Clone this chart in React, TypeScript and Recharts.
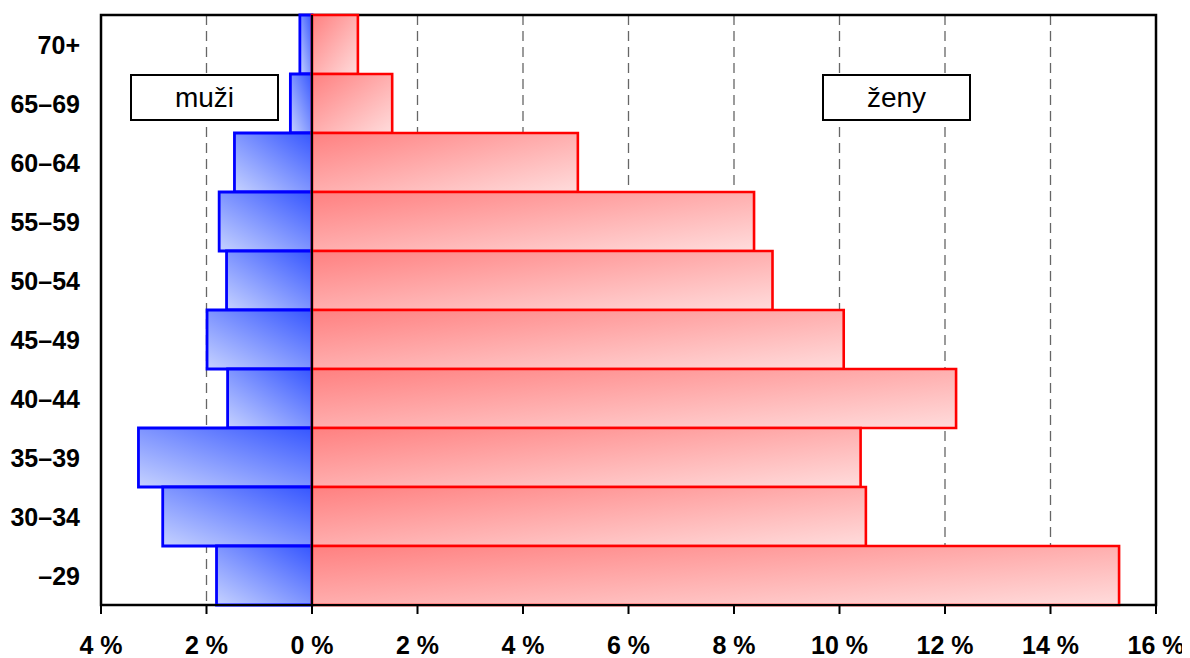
import React from "react";
import {
  BarChart,
  Bar,
  XAxis,
  YAxis,
  CartesianGrid,
  ReferenceLine,
  ReferenceArea,
} from "recharts";

const ageGroups = ["70+", "65–69", "60–64", "55–59", "50–54", "45–49", "40–44", "35–39", "30–34", "–29"];
const menValues = [-0.23, -0.41, -1.47, -1.76, -1.62, -1.99, -1.6, -3.29, -2.83, -1.81];
const womenValues = [0.87, 1.52, 5.04, 8.38, 8.73, 10.08, 12.21, 10.4, 10.5, 15.3];
const xTicks = [-4, -2, 0, 2, 4, 6, 8, 10, 12, 14, 16];
const menLabel = "muži";
const womenLabel = "ženy";

const data = ageGroups.map((age, i) => ({ age, men: menValues[i], women: womenValues[i] }));

const FONT = "'Liberation Sans', Arial, Helvetica, sans-serif";

const XTick = (props: any) => {
  const { x, y, payload } = props;
  return (
    <text x={x} y={y + 38} textAnchor="middle" fontFamily={FONT} fontSize={25} fontWeight="bold" fill="#000">
      {`${Math.abs(payload.value)} %`}
    </text>
  );
};

const YTick = (props: any) => {
  const { x, y, payload } = props;
  return (
    <text x={x - 21} y={y + 9} textAnchor="end" fontFamily={FONT} fontSize={25} fontWeight="bold" fill="#000">
      {payload.value}
    </text>
  );
};

const boxStyle: React.CSSProperties = {
  position: "absolute",
  top: 66,
  width: 149,
  height: 47,
  boxSizing: "border-box",
  border: "2px solid #000",
  background: "#fff",
  fontFamily: FONT,
  fontSize: 28,
  display: "flex",
  alignItems: "center",
  justifyContent: "center",
  color: "#000",
};

export default function App() {
  return (
    <div style={{ position: "relative", width: 1182, height: 650 }}>
      <BarChart
        width={1182}
        height={650}
        data={data}
        layout="vertical"
        stackOffset="sign"
        barCategoryGap={0}
        margin={{ top: 7, right: 34, left: 0, bottom: 8 }}
      >
        <defs>
          <linearGradient id="blueGrad" x1="0" y1="1" x2="1" y2="0">
            <stop offset="0%" stopColor="#c6d2ff" />
            <stop offset="100%" stopColor="#3656ff" />
          </linearGradient>
          <linearGradient id="redGrad" x1="0" y1="0" x2="1" y2="1">
            <stop offset="0%" stopColor="#ff8080" />
            <stop offset="100%" stopColor="#ffdcdc" />
          </linearGradient>
        </defs>
        <CartesianGrid horizontal={false} stroke="#666" strokeDasharray="10 6" strokeWidth={1.3} />
        <XAxis
          type="number"
          domain={[-4, 16]}
          ticks={xTicks}
          interval={0}
          height={45}
          tickSize={9}
          tickLine={{ stroke: "#000", strokeWidth: 2 }}
          axisLine={{ stroke: "#000", strokeWidth: 2 }}
          tick={<XTick />}
          allowDataOverflow
        />
        <YAxis
          type="category"
          dataKey="age"
          width={93}
          tickLine={false}
          tickSize={0}
          tickMargin={0}
          axisLine={{ stroke: "#000", strokeWidth: 2 }}
          tick={<YTick />}
          interval={0}
        />
        <Bar dataKey="men" stackId="a" fill="url(#blueGrad)" stroke="#0000ff" strokeWidth={2.8} isAnimationActive={false} />
        <Bar dataKey="women" stackId="a" fill="url(#redGrad)" stroke="#ff0000" strokeWidth={2.6} isAnimationActive={false} />
        <ReferenceLine x={0} stroke="#000" strokeWidth={2} />
        <ReferenceArea x1={-4} x2={16} fill="none" fillOpacity={0} stroke="#000" strokeWidth={2.5} />
      </BarChart>
      <div style={{ ...boxStyle, left: 122 }}>{menLabel}</div>
      <div style={{ ...boxStyle, left: 814 }}>{womenLabel}</div>
    </div>
  );
}
